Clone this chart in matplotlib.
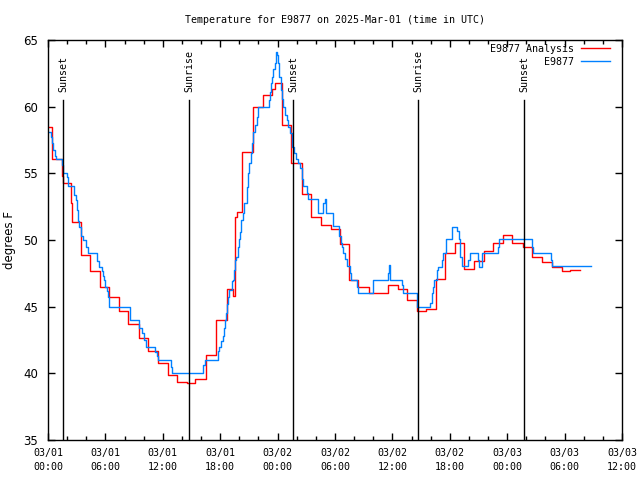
import matplotlib
matplotlib.use("Agg")
import matplotlib.pyplot as plt
import numpy as np

# hours after 2025-03-01 00:00 UTC
red_t = [0.0, 0.45, 1.43, 1.6, 2.4, 2.5, 3.48, 4.39, 5.47, 6.38, 7.45, 8.39, 9.48,
         10.45, 11.53, 12.54, 13.45, 14.5, 15.4, 16.48, 17.53, 18.68, 19.3, 19.56,
         19.75, 20.3, 21.4, 22.5, 23.38, 23.73, 24.43, 25.45, 26.52, 27.49, 28.54,
         29.55, 30.52, 31.49, 32.43, 33.55, 35.5, 36.55, 37.56, 38.54, 39.51, 40.52,
         41.5, 42.54, 43.51, 44.53, 45.57, 46.55, 47.53, 48.53, 49.68, 50.62, 51.6,
         52.65, 53.7, 54.56, 55.6]
red_v = [58.45, 56.1, 54.8, 54.25, 52.8, 51.33, 48.9, 47.65, 46.45, 45.7, 44.7, 43.67,
         42.65, 41.65, 40.8, 39.9, 39.33, 39.25, 39.6, 41.4, 44.0, 46.3, 45.8, 51.75,
         52.1, 56.6, 59.95, 60.85, 61.3, 61.75, 58.6, 55.75, 53.43, 51.7, 51.1, 50.8,
         49.7, 47.0, 46.45, 46.0, 46.6, 46.3, 45.5, 44.7, 44.8, 47.1, 49.05, 49.75,
         47.8, 48.4, 49.2, 49.8, 50.4, 49.8, 49.5, 48.7, 48.35, 47.95, 47.7, 47.75, 47.75]

blue_t = [0.0, 0.28, 0.42, 0.55, 0.70, 0.84, 1.43, 1.54, 1.95, 2.09, 2.75, 2.93, 3.03,
          3.14, 3.29, 3.45, 3.61, 3.92, 4.15, 5.09, 5.30, 5.61, 5.72, 5.82, 5.96, 6.17,
          6.27, 6.41, 8.60, 9.54, 9.79, 10.03, 10.28, 11.22, 11.36, 11.47, 12.83, 12.93,
          16.23, 16.38, 17.80, 17.91, 18.08, 18.26, 18.40, 18.50, 18.61, 18.71, 18.82,
          18.92, 19.20, 19.31, 19.44, 19.55, 19.65, 19.83, 19.93, 20.07, 20.21, 20.35,
          20.52, 20.77, 20.87, 21.01, 21.19, 21.29, 21.46, 21.64, 21.82, 21.98, 23.07,
          23.21, 23.31, 23.45, 23.55, 23.70, 23.86, 23.97, 24.07, 24.18, 24.32, 24.43,
          24.60, 24.77, 24.95, 25.12, 25.30, 25.47, 25.75, 25.89, 26.16, 26.34, 26.52,
          26.69, 27.04, 27.21, 28.25, 28.78, 28.92, 29.06, 29.82, 30.45, 30.60, 30.70,
          30.84, 31.04, 31.22, 31.57, 31.67, 32.30, 32.40, 34.00, 35.57, 35.68, 35.78,
          36.97, 37.14, 38.54, 39.93, 40.11, 40.27, 40.38, 40.63, 40.74, 41.15, 41.32,
          41.60, 42.20, 42.78, 42.93, 43.07, 43.24, 43.93, 44.11, 44.98, 45.10, 45.33,
          47.01, 47.14, 50.56, 50.66, 52.58, 52.71, 56.73]
blue_v = [58.1, 57.75, 57.25, 56.75, 56.3, 56.1, 55.6, 55.0, 54.75, 54.05, 53.35, 53.0,
          52.25, 51.4, 51.0, 50.3, 50.0, 49.5, 49.0, 48.4, 48.0, 47.7, 47.3, 47.0, 46.5,
          46.2, 45.7, 45.0, 44.0, 43.4, 43.0, 42.5, 42.0, 41.6, 41.3, 41.0, 40.5, 40.0,
          40.6, 41.0, 41.7, 42.0, 42.4, 42.8, 43.4, 44.0, 44.5, 45.2, 45.75, 46.25, 46.9,
          47.0, 47.75, 48.5, 48.75, 49.5, 50.05, 50.6, 51.5, 52.0, 52.75, 54.0, 55.0,
          55.75, 56.5, 57.25, 58.1, 58.6, 59.25, 60.0, 60.5, 61.1, 61.75, 62.25, 62.8,
          63.25, 64.07, 63.9, 63.25, 62.25, 61.25, 60.55, 60.0, 59.4, 59.0, 58.5, 58.0,
          57.0, 56.5, 56.05, 55.75, 55.4, 54.6, 54.05, 53.5, 53.07, 52.0, 52.75, 53.1,
          52.0, 51.05, 50.3, 49.75, 49.5, 49.0, 48.6, 48.05, 47.5, 47.0, 46.5, 46.0, 47.0,
          47.5, 48.1, 47.0, 46.6, 46.0, 45.0, 45.25, 46.0, 46.5, 47.0, 47.75, 48.0, 48.5,
          49.0, 50.05, 51.0, 50.7, 50.05, 48.75, 48.05, 48.5, 49.0, 48.5, 48.0, 49.0,
          49.5, 50.05, 49.5, 49.0, 48.5, 48.05, 48.05]

sun_t = [1.60, 14.77, 25.65, 38.71, 49.80]
sun_lbl = ["Sunset", "Sunrise", "Sunset", "Sunrise", "Sunset"]

xtick_h = [0, 6, 12, 18, 24, 30, 36, 42, 48, 54, 60]
xtick_lbl = ["03/01\n00:00", "03/01\n06:00", "03/01\n12:00", "03/01\n18:00",
             "03/02\n00:00", "03/02\n06:00", "03/02\n12:00", "03/02\n18:00",
             "03/03\n00:00", "03/03\n06:00", "03/03\n12:00"]

mono = "DejaVu Sans Mono"
fig = plt.figure(figsize=(6.4, 4.8), dpi=100)
ax = fig.add_axes([48/640, 40/480, 574/640, 400/480])

ax.step(red_t, red_v, where="post", color="#ff0000", lw=1.0, label="E9877 Analysis")
ax.step(blue_t, blue_v, where="post", color="#0080ff", lw=1.0, label="E9877")

for t, s in zip(sun_t, sun_lbl):
    ax.plot([t, t], [35, 35 + 30 * 0.85], color="black", lw=1.0)
    ax.text(t, 35 + 30 * 0.87, s, rotation=90, ha="center", va="bottom",
            fontsize=7.2, family=mono)

ax.set_xlim(0, 60)
ax.set_ylim(35, 65)
ax.set_xticks(xtick_h)
ax.set_xticklabels(xtick_lbl, family=mono, fontsize=7.2, linespacing=1.5)
ax.set_xticks(np.arange(0, 61, 2), minor=True)
ax.set_yticks(range(35, 66, 5))
ax.tick_params(axis="y", labelsize=8.5, pad=7)
ax.tick_params(axis="x", pad=6)
ax.tick_params(direction="in", top=True, right=True, length=5, width=1)
ax.tick_params(which="minor", direction="in", top=True, length=3, width=1)
for sp in ax.spines.values():
    sp.set_linewidth(1.0)

ax.set_ylabel("degrees F", fontsize=8.5, labelpad=5)
ax.set_title("Temperature for E9877 on 2025-Mar-01 (time in UTC)", family=mono,
             fontsize=7.2, pad=12)

leg = ax.legend(loc="upper right", frameon=False, markerfirst=False,
                prop={"family": mono, "size": 7.2}, handlelength=2.9,
                borderaxespad=0.2, borderpad=0.2, labelspacing=0.3,
                handletextpad=0.7)
for txt in leg.get_texts():
    txt.set_ha("right")
# nudge legend so the line samples end ~12 px before the right axis
leg.set_bbox_to_anchor((1 - 8/574, 1.0), transform=ax.transAxes)

fig.savefig("out.png", dpi=100)
